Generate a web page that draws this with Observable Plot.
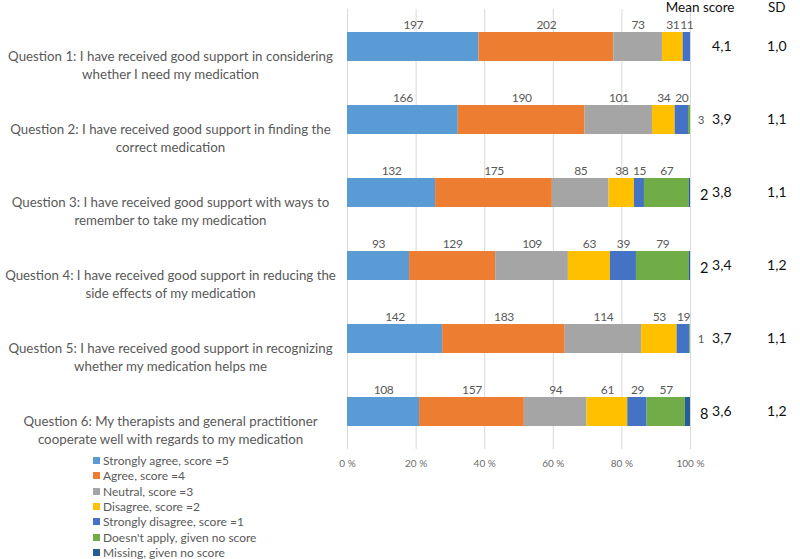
<!DOCTYPE html>
<html>
<head>
<meta charset="utf-8">
<script src="https://cdn.jsdelivr.net/npm/d3@7"></script>
<script src="https://cdn.jsdelivr.net/npm/@observablehq/plot@0.6"></script>
<style>
  html, body { margin: 0; padding: 0; background: #fff; }
  #wrap { position: relative; width: 800px; height: 559px; font-family: Lato, sans-serif; }
  #legend { position: absolute; left: 93px; top: 453px; font-size: 12px; color: #595959; }
  #legend .item { height: 15.33px; line-height: 15.33px; white-space: nowrap; display: flex; align-items: center; }
  #legend .sw { width: 7px; height: 7px; margin-right: 3px; display: inline-block; }
  .lbl text { letter-spacing: -0.4px; }
</style>
</head>
<body>
<div id="wrap"><div id="legend"></div></div>
<script>
const questions = [
  "Question 1: I have received good support in considering\nwhether I need my medication",
  "Question 2: I have received good support in finding the\ncorrect medication",
  "Question 3: I have received good support with ways to\nremember to take my medication",
  "Question 4: I have received good support in reducing the\nside effects of my medication",
  "Question 5: I have received good support in recognizing\nwhether my medication helps me",
  "Question 6: My therapists and general practitioner\ncooperate well with regards to my medication"
];
const categories = [
  "Strongly agree, score =5",
  "Agree, score =4",
  "Neutral, score =3",
  "Disagree, score =2",
  "Strongly disagree, score =1",
  "Doesn't apply, given no score",
  "Missing, given no score"
];
const colors = ["#5B9BD5", "#ED7D31", "#A5A5A5", "#FFC000", "#4472C4", "#70AD47", "#255E91"];

const stronglyAgree    = [197, 166, 132,  93, 142, 108];
const agree            = [202, 190, 175, 129, 183, 157];
const neutral          = [ 73, 101,  85, 109, 114,  94];
const disagree         = [ 31,  34,  38,  63,  53,  61];
const stronglyDisagree = [ 11,  20,  15,  39,  19,  29];
const doesntApply      = [  0,   3,  67,  79,   1,  57];
const missing          = [  0,   0,   2,   2,   0,   8];
const meanScore        = [4.1, 3.9, 3.8, 3.4, 3.7, 3.6];
const sd               = [1.0, 1.1, 1.1, 1.2, 1.1, 1.2];
const xTicks           = [0, 0.2, 0.4, 0.6, 0.8, 1];

const series = [stronglyAgree, agree, neutral, disagree, stronglyDisagree, doesntApply, missing];
const rows = questions.flatMap((q, i) => series.map((s, j) => ({question: q, category: categories[j], count: s[i], j})));

const comma = v => v.toFixed(1).replace(".", ",");
const aboveLabel = d => {
  if (d.count <= 0) return "";
  if (d.j === 6) return "";
  if (d.j === 5 && d.count < 5) return "";
  return String(d.count);
};

const chart = Plot.plot({
  width: 800,
  height: 559,
  marginLeft: 347,
  marginRight: 110,
  marginTop: 9,
  marginBottom: 110,
  style: {fontFamily: "Lato, sans-serif", background: "transparent"},
  x: {domain: [0, 1], ticks: xTicks, tickFormat: d => `${Math.round(d * 100)} %`, tickSize: 0, tickPadding: 10, label: null, fontSize: 12},
  y: {domain: questions, paddingInner: 0.6, paddingOuter: 0.3, axis: null},
  color: {domain: categories, range: colors},
  marks: [
    Plot.gridX(xTicks, {stroke: "#d9d9d9", strokeOpacity: 1}),
    Plot.barX(rows, {x: "count", y: "question", fill: "category", offset: "normalize", order: categories}),
    Plot.text(rows, Plot.stackX({x: "count", y: "question", z: "category", offset: "normalize", order: categories,
      text: aboveLabel, dy: -22, fill: "#595959", fontSize: 12, className: "lbl"})),
    Plot.text(questions, {y: d => d, text: d => d, frameAnchor: "left", dx: -177, dy: 17, textAnchor: "middle",
      lineHeight: 1.33, fill: "#595959", fontSize: 13.3}),
    Plot.text(questions, {y: d => d, text: (d, i) => (doesntApply[i] > 0 && doesntApply[i] < 5) ? String(doesntApply[i]) : "",
      frameAnchor: "right", dx: 14, fill: "#595959", fontSize: 11.5}),
    Plot.text(questions, {y: d => d, text: (d, i) => missing[i] > 0 ? String(missing[i]) : "",
      frameAnchor: "right", dx: 18, dy: 2, fill: "#111", fontSize: 14.5}),
    Plot.text(questions, {y: d => d, text: (d, i) => comma(meanScore[i]), frameAnchor: "right", dx: 41, fill: "#111", fontSize: 14}),
    Plot.text(questions, {y: d => d, text: (d, i) => comma(sd[i]), frameAnchor: "right", dx: 96, fill: "#111", fontSize: 14}),
    Plot.text(["Mean score"], {text: d => d, frameAnchor: "top-right", lineAnchor: "middle", dx: 44, dy: -2, fill: "#111", fontSize: 13.5}),
    Plot.text(["SD"], {text: d => d, frameAnchor: "top-right", lineAnchor: "middle", dx: 95, dy: -2, fill: "#111", fontSize: 13.5})
  ]
});
chart.querySelectorAll('g[aria-label="x-axis tick label"]').forEach(el => el.setAttribute("fill", "#6b6b6b"));
document.getElementById("wrap").prepend(chart);

const legend = document.getElementById("legend");
categories.forEach((c, j) => {
  const item = document.createElement("div");
  item.className = "item";
  const sw = document.createElement("span");
  sw.className = "sw";
  sw.style.background = colors[j];
  item.appendChild(sw);
  item.appendChild(document.createTextNode(c));
  legend.appendChild(item);
});
</script>
</body>
</html>
